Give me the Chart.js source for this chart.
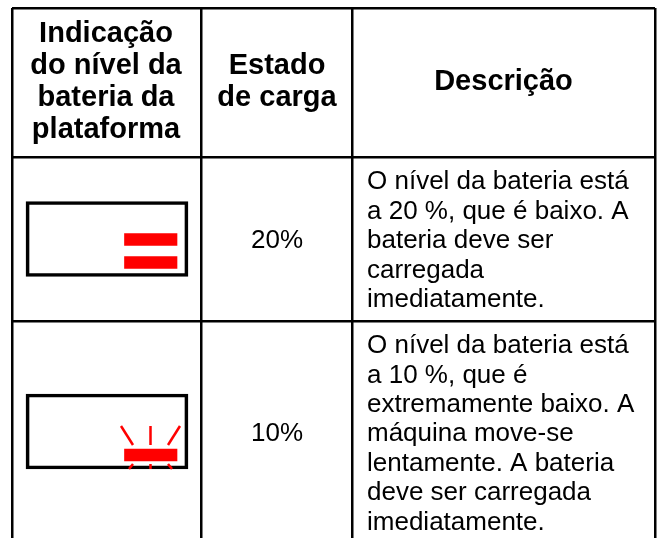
<!DOCTYPE html>
<html lang="pt">
<head>
<meta charset="utf-8">
<title>Indicação do nível da bateria</title>
<script src="https://cdn.jsdelivr.net/npm/chart.js@4"></script>
<style>
  html, body { margin: 0; background: #fff; }
  canvas { display: block; }
</style>
</head>
<body>
<canvas id="chart" width="659" height="538"></canvas>
<script>
// table content
const headers = [
  ['Indicação', 'do nível da', 'bateria da', 'plataforma'],
  ['Estado', 'de carga'],
  ['Descrição']
];
const chargeLevels = [20, 10];
const chargeLabels = ['20%', '10%'];
const descriptions = [
  ['O nível da bateria está', 'a 20 %, que é baixo. A', 'bateria deve ser', 'carregada', 'imediatamente.'],
  ['O nível da bateria está', 'a 10 %, que é', 'extremamente baixo. A', 'máquina move-se', 'lentamente. A bateria', 'deve ser carregada', 'imediatamente.']
];
const blinking = [false, true];

// layout, in canvas pixels (the scales below run 1:1 with the canvas)
const columnEdges = [12, 201, 352, 655];
const rowEdges = [8, 157.5, 321];
const columnCentres = [106, 277, 503.5];
const batteryCentres = [239, 431.5];
const batteryX = [26, 188];
const batteryHeight = 75;
const segmentX = [124.5, 177];
const segmentHeight = 12;
const segmentPitch = 23;
const bottomSegmentOffset = 23.5;
const chargeBaselines = [248, 441];
const headerBaselines = [[42, 74, 106, 138], [74, 106], [90]];
const descBaselines = [
  [189, 219, 248, 277.5, 307],
  [353, 382.5, 412, 441, 470.5, 500, 529.5]
];
const descX = 367;
const rays = [
  [[121, -29], [133, -10]],
  [[150.5, -29], [150.5, -10]],
  [[180, -29], [168, -10]],
  [[133, 9], [129, 14]],
  [[150.5, 9], [150.5, 14]],
  [[168, 9], [172, 14]]
];

const datasets = [];
chargeLevels.forEach((level, i) => {
  const centre = batteryCentres[i];
  datasets.push({
    type: 'bar', indexAxis: 'y', order: 3, grouped: false,
    data: [{ x: batteryX, y: centre }],
    barThickness: batteryHeight,
    backgroundColor: 'rgba(0,0,0,0)',
    borderColor: '#000', borderWidth: 3, borderSkipped: false
  });
  // one red segment per 10 %
  for (let s = 0; s < level / 10; s++) {
    datasets.push({
      type: 'bar', indexAxis: 'y', order: 1, grouped: false,
      data: [{ x: segmentX, y: centre + bottomSegmentOffset - s * segmentPitch }],
      barThickness: segmentHeight,
      backgroundColor: '#ff0000'
    });
  }
  if (blinking[i]) {
    const barY = centre + bottomSegmentOffset;
    rays.forEach(r => {
      datasets.push({
        type: 'scatter', showLine: true, order: 2,
        data: r.map(p => ({ x: p[0], y: barY + p[1] })),
        borderColor: '#ff0000', borderWidth: 2.5, pointRadius: 0
      });
    });
  }
});

const tableText = {
  id: 'tableText',
  afterDraw(chart) {
    const ctx = chart.ctx;
    const x = chart.scales.x, y = chart.scales.y;
    ctx.save();
    ctx.fillStyle = '#000';
    ctx.textBaseline = 'alphabetic';

    ctx.textAlign = 'center';
    ctx.font = 'bold 29px "Liberation Sans"';
    headers.forEach((lines, c) => {
      const cx = x.getPixelForValue(columnCentres[c]);
      lines.forEach((t, l) => ctx.fillText(t, cx, y.getPixelForValue(headerBaselines[c][l])));
    });

    ctx.font = '26px "Liberation Sans"';
    chargeLabels.forEach((t, r) => {
      ctx.fillText(t, x.getPixelForValue(columnCentres[1]), y.getPixelForValue(chargeBaselines[r]));
    });

    ctx.textAlign = 'left';
    descriptions.forEach((lines, r) => {
      lines.forEach((t, l) => ctx.fillText(t, x.getPixelForValue(descX), y.getPixelForValue(descBaselines[r][l])));
    });
    ctx.restore();
  }
};

new Chart(document.getElementById('chart'), {
  data: { datasets },
  plugins: [tableText],
  options: {
    responsive: false,
    animation: false,
    layout: { padding: { left: 12, right: 4, top: 8, bottom: 0 } },
    plugins: { legend: { display: false }, tooltip: { enabled: false } },
    scales: {
      x: {
        type: 'linear', offset: false, min: columnEdges[0], max: columnEdges[3],
        afterBuildTicks: s => { s.ticks = columnEdges.map(value => ({ value })); },
        ticks: { display: false },
        grid: { color: '#000', lineWidth: 2.5, drawTicks: false, offset: false },
        border: { display: false }
      },
      y: {
        type: 'linear', offset: false, reverse: true, min: rowEdges[0], max: 538,
        afterBuildTicks: s => { s.ticks = rowEdges.map(value => ({ value })); },
        ticks: { display: false },
        grid: { color: '#000', lineWidth: 2.5, drawTicks: false, offset: false },
        border: { display: false }
      }
    }
  }
});
</script>
</body>
</html>
